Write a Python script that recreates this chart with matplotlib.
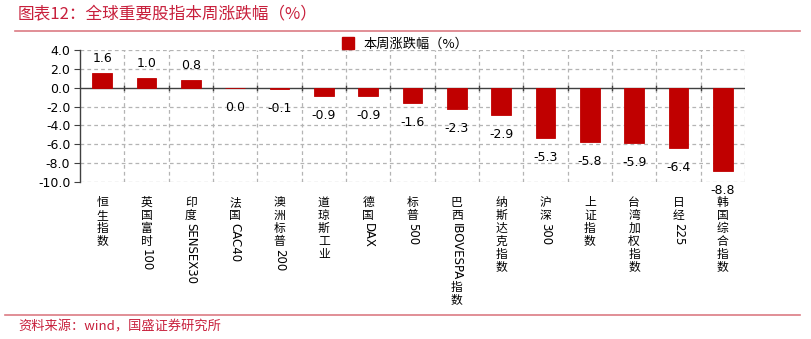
import re
import matplotlib
matplotlib.use("Agg")
import matplotlib.pyplot as plt
from matplotlib.lines import Line2D

plt.rcParams['font.family'] = ['DejaVu Sans', 'Noto Sans CJK SC']

categories = ['恒生指数', '英国富时100', '印度SENSEX30', '法国CAC40', '澳洲标普200',
              '道琼斯工业', '德国DAX', '标普500', '巴西IBOVESPA指数', '纳斯达克指数',
              '沪深300', '上证指数', '台湾加权指数', '日经225', '韩国综合指数']
values = [1.6, 1.0, 0.8, -0.04, -0.1, -0.9, -0.9, -1.6, -2.3, -2.9,
          -5.3, -5.8, -5.9, -6.4, -8.8]
yticks = [4.0, 2.0, 0.0, -2.0, -4.0, -6.0, -8.0, -10.0]

title = '图表12：全球重要股指本周涨跌幅（%）'
source = '资料来源：wind，国盛证券研究所'
series_name = '本周涨跌幅（%）'

red = '#c00000'
rule = '#dc7b84'
txtred = '#c8203c'
grid = '#b4b4b4'

fig = plt.figure(figsize=(8.11, 3.39), dpi=100)
ax = fig.add_axes([80/811, 1-182/339, 665/811, 132/339])

x = list(range(len(categories)))
bars = ax.bar(x, values, width=0.45, color=red, zorder=5, label=series_name,
              edgecolor=red, linewidth=0.6)

ax.set_xlim(-0.5, len(categories) - 0.5)
ax.set_ylim(-10, 4)
ax.set_yticks(yticks)
ax.set_yticklabels([f'{v:.1f}' for v in yticks], fontsize=9)
ax.tick_params(axis='y', direction='out', length=4, color='#404040', pad=3)

# dashed grid
for v in yticks:
    if v != 0:
        ax.axhline(v, color=grid, lw=0.9, ls=(0, (3, 2.5)), zorder=1)
for b in [i + 0.5 for i in x]:
    ax.axvline(b, color=grid, lw=0.9, ls=(0, (3, 2.5)), zorder=1)

for s in ['top', 'right', 'bottom']:
    ax.spines[s].set_visible(False)
ax.spines['left'].set_color('#404040')
ax.spines['left'].set_linewidth(1.0)
ax.axhline(0, color='#404040', lw=1.0, zorder=4)
ax.set_xticks([])
# boundary ticks across zero line
for b in [i + 0.5 for i in x[:-1]]:
    ax.plot([b, b], [-0.2, 0.2], color='#404040', lw=1.0, zorder=4)

# value labels
for xi, v in zip(x, values):
    lab = f'{v:.1f}'
    if lab == '-0.0':
        lab = '0.0'
    if v >= 0:
        ax.annotate(lab, (xi, v), xytext=(0, 8), textcoords='offset pixels',
                    ha='center', va='bottom', fontsize=9, zorder=6)
    else:
        ax.annotate(lab, (xi, v), xytext=(0, -13), textcoords='offset pixels',
                    ha='center', va='top', fontsize=9, zorder=6)

# vertical category labels: CJK upright, latin rotated
renderer = fig.canvas.get_renderer()
for xi, name in zip(x, categories):
    cursor = 14
    for run in re.findall(r'[\u4e00-\u9fff]|[^\u4e00-\u9fff]+', name):
        if re.match(r'[\u4e00-\u9fff]', run):
            ax.annotate(run, (xi, 0), xycoords=('data', 'axes fraction'),
                        xytext=(0, -cursor), textcoords='offset pixels',
                        ha='center', va='top', fontsize=8.5,
                        family=['Noto Sans CJK SC'])
            cursor += 13
        else:
            t = ax.annotate(run, (xi, 0), xycoords=('data', 'axes fraction'),
                            xytext=(0, -cursor - 1), textcoords='offset pixels',
                            ha='center', va='top', fontsize=8.5, rotation=-90)
            cursor += t.get_window_extent(renderer).height + 2

# legend
h = [Line2D([], [], marker='s', color=red, ls='', markersize=8)]
fig.legend(h, [series_name], loc='center', bbox_to_anchor=(0.495, 1-44/339),
           frameon=False, handletextpad=0.2, borderpad=0,
           prop={'family': ['Noto Sans CJK SC'], 'size': 9.5})

# header / footer rules and texts
fig.add_artist(Line2D([15/811, 800/811], [1-31/339, 1-31/339], color=rule, lw=1.2))
fig.add_artist(Line2D([5/811, 800/811], [1-315/339, 1-315/339], color=rule, lw=1.2))
fig.text(18/811, 1-15/339, title, color=txtred, fontsize=12, va='center',
         family=['Noto Sans CJK SC', 'DejaVu Sans'], style='italic')
fig.text(18/811, 1-327/339, source, color=txtred, fontsize=9.5, va='center',
         family=['Noto Sans CJK SC', 'DejaVu Sans'], style='italic')

fig.savefig('out.png', dpi=100)
